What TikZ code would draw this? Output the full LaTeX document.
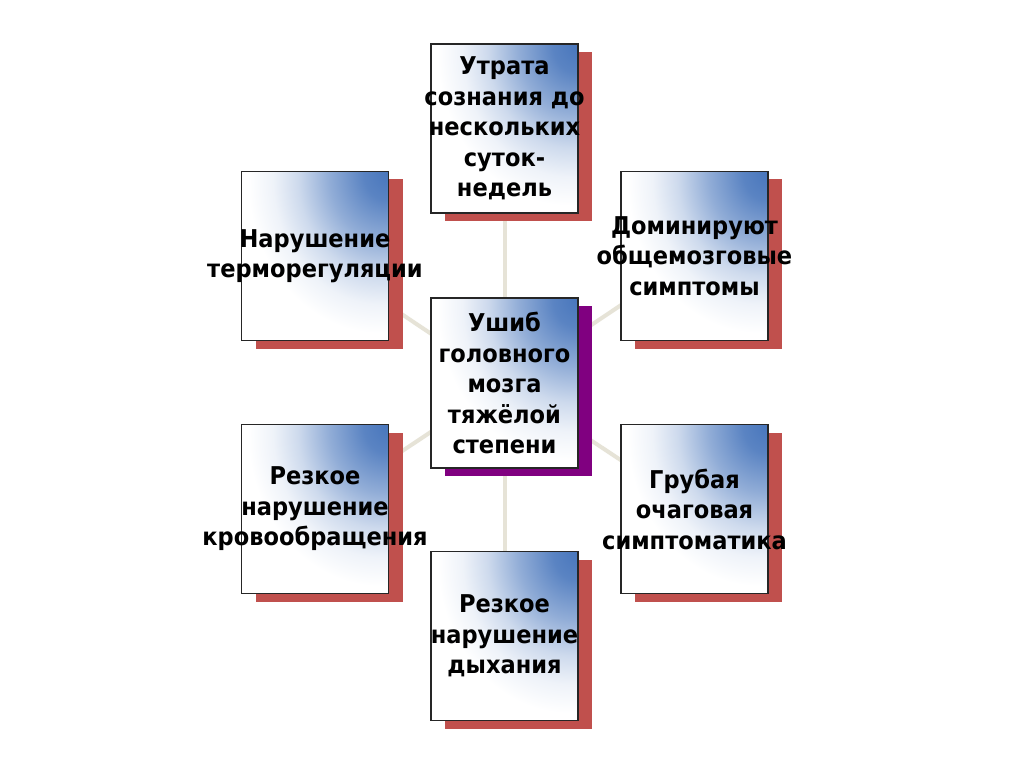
\documentclass[tikz,border=0pt]{standalone}
\usepackage{fontspec}
\setmainfont{DejaVu Sans}[FakeStretch=0.92]
\usetikzlibrary{shadows}

\definecolor{boxblue}{RGB}{72,118,188}
\definecolor{shadowred}{RGB}{192,80,77}
\definecolor{shadowpurple}{RGB}{128,0,128}
\definecolor{spokegray}{RGB}{230,227,215}
\pgfdeclareradialshading{boxfade}{\pgfpoint{25bp}{25bp}}{color(0bp)=(boxblue); color(8bp)=(boxblue!90!white); color(19bp)=(boxblue!60!white); color(29bp)=(boxblue!27!white); color(37bp)=(boxblue!9!white); color(45bp)=(white); color(400bp)=(white)}

\tikzset{
  card/.style={draw=black!85, line width=1.2pt, shading=boxfade,
    minimum width=147pt, minimum height=169pt, inner sep=0pt,
    drop shadow={shadow xshift=14pt, shadow yshift=-8pt, fill=#1, opacity=1}},
  card/.default=shadowred,
  cardtext/.style={align=center, font=\bfseries\fontsize{24.5}{30.5}\selectfont, inner sep=0pt}
}

\begin{document}
\begin{tikzpicture}[x=1pt,y=-1pt]
\useasboundingbox[fill=white] (0,0) rectangle (1024,767);

% Hub position and spokes (drawn first, boxes cover them)
\coordinate (hub) at (504.5,383);
\foreach \x/\y in {504.5/128.5, 315/256, 694.5/256, 315/509, 694.5/509, 504.5/635.5}
  \draw[spokegray, line width=4pt] (hub) -- (\x,\y);

% Outer boxes
\node[card] (top) at (504.5,128.5) {};
\node[cardtext] (top-txt) at (top) {Утрата\\сознания до\\нескольких\\суток-\\недель};

\node[card] (lup) at (315,256) {};
\node[cardtext] (lup-txt) at (lup) {Нарушение\\терморегуляции};

\node[card] (rup) at (694.5,256) {};
\node[cardtext] (rup-txt) at (rup) {Доминируют\\общемозговые\\симптомы};

\node[card] (llo) at (315,509) {};
\node[cardtext] (llo-txt) at (llo) {Резкое\\нарушение\\кровообращения};

\node[card] (rlo) at (694.5,509) {};
\node[cardtext] (rlo-txt) at (rlo) {Грубая\\очаговая\\симптоматика};

\node[card] (bot) at (504.5,636) {};
\node[cardtext] (bot-txt) at (bot) {Резкое\\нарушение\\дыхания};

% Central box
\node[card=shadowpurple, minimum height=170pt] (ctr) at (hub) {};
\node[cardtext] (ctr-txt) at (ctr) {Ушиб\\головного\\мозга\\тяжёлой\\степени};

\end{tikzpicture}
\end{document}
